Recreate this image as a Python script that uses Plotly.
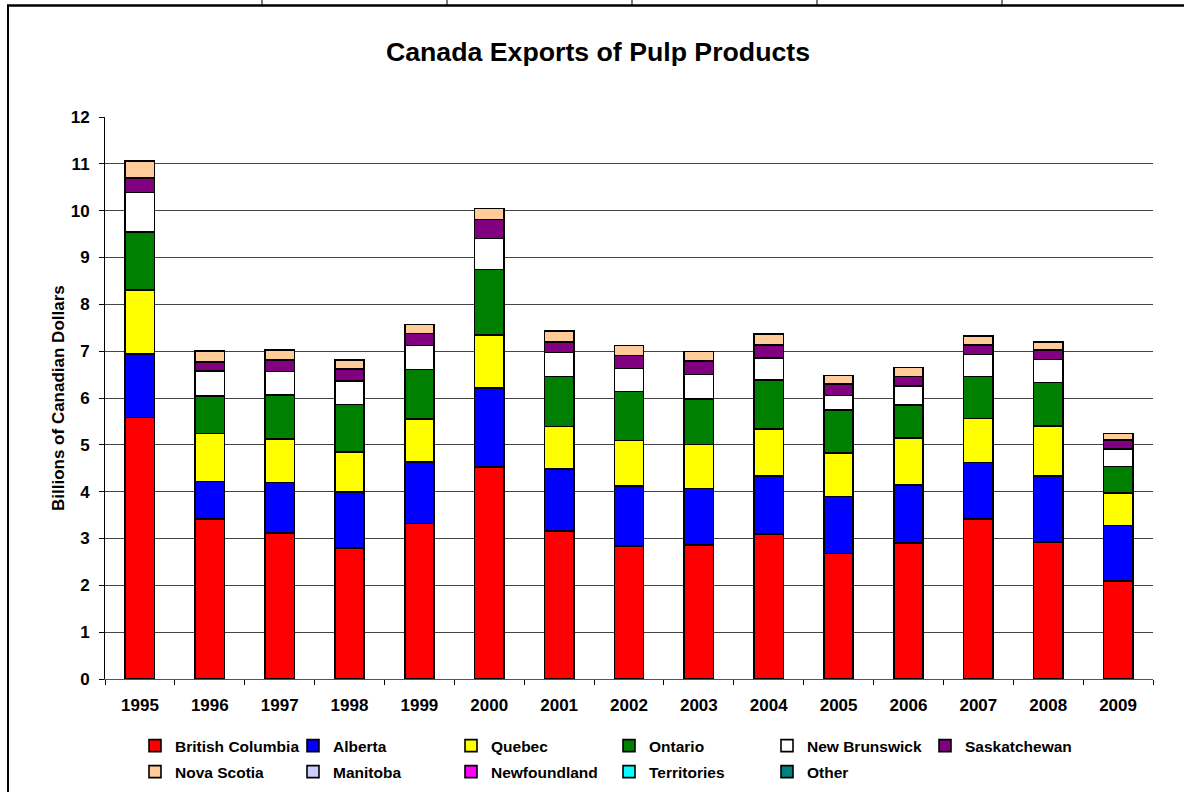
import plotly.graph_objects as go

years = ["1995", "1996", "1997", "1998", "1999", "2000", "2001", "2002",
         "2003", "2004", "2005", "2006", "2007", "2008", "2009"]

british_columbia = [5.58, 3.42, 3.12, 2.80, 3.32, 4.53, 3.16, 2.84, 2.86, 3.09, 2.68, 2.91, 3.42, 2.92, 2.09]
alberta          = [1.36, 0.80, 1.08, 1.19, 1.31, 1.69, 1.32, 1.28, 1.21, 1.25, 1.22, 1.23, 1.20, 1.42, 1.19]
quebec           = [1.37, 1.02, 0.93, 0.86, 0.92, 1.12, 0.91, 0.97, 0.94, 1.00, 0.93, 1.01, 0.94, 1.06, 0.69]
ontario          = [1.24, 0.80, 0.94, 1.01, 1.06, 1.40, 1.07, 1.05, 0.97, 1.04, 0.91, 0.70, 0.90, 0.93, 0.57]
new_brunswick    = [0.84, 0.54, 0.50, 0.50, 0.51, 0.67, 0.51, 0.49, 0.52, 0.48, 0.31, 0.41, 0.47, 0.49, 0.37]
saskatchewan     = [0.31, 0.19, 0.24, 0.26, 0.26, 0.40, 0.23, 0.28, 0.29, 0.27, 0.25, 0.20, 0.20, 0.21, 0.19]
nova_scotia      = [0.36, 0.24, 0.22, 0.19, 0.19, 0.24, 0.23, 0.21, 0.20, 0.24, 0.18, 0.19, 0.19, 0.17, 0.14]
manitoba         = [0] * 15
newfoundland     = [0] * 15
territories      = [0] * 15
other            = [0] * 15

series = [
    ("British Columbia", british_columbia, "#FF0000", "legend"),
    ("Alberta", alberta, "#0000FF", "legend"),
    ("Quebec", quebec, "#FFFF00", "legend"),
    ("Ontario", ontario, "#008000", "legend"),
    ("New Brunswick", new_brunswick, "#FFFFFF", "legend"),
    ("Saskatchewan", saskatchewan, "#800080", "legend"),
    ("Nova Scotia", nova_scotia, "#FFCC99", "legend2"),
    ("Manitoba", manitoba, "#CCCCFF", "legend2"),
    ("Newfoundland", newfoundland, "#FF00FF", "legend2"),
    ("Territories", territories, "#00FFFF", "legend2"),
    ("Other", other, "#008080", "legend2"),
]

y_ticks = list(range(0, 13))

FONT = "Arial, 'Liberation Sans', sans-serif"

fig = go.Figure()
for name, vals, color, leg in series:
    fig.add_trace(go.Bar(
        x=years, y=vals, name=name,
        marker=dict(color=color, line=dict(color="#000000", width=1.6)),
        legend=leg,
    ))

W, H = 1184, 792
L, R, T, B = 105, 31, 117, 113
pw, ph = W - L - R, H - T - B

def px(x):
    return (x - L) / pw

def py(y):
    return (H - B - y) / ph

shapes = [
    dict(type="line", xref="paper", yref="paper", x0=px(8), x1=px(8), y0=py(5), y1=py(800),
         line=dict(color="#000000", width=2)),
    dict(type="line", xref="paper", yref="paper", x0=px(7), x1=px(1200), y0=py(5.5), y1=py(5.5),
         line=dict(color="#000000", width=2.5)),
]
for dx in [262, 447, 632, 817, 1002]:
    shapes.append(dict(type="line", xref="paper", yref="paper", x0=px(dx), x1=px(dx),
                       y0=py(-2), y1=py(5), line=dict(color="#000000", width=1)))

legend_common = dict(
    orientation="h", xref="container", yref="container",
    xanchor="left", yanchor="middle",
    font=dict(family=FONT, size=15.5, color="#000000", weight="bold"),
    entrywidth=113, entrywidthmode="pixels",
    itemwidth=30, bgcolor="rgba(0,0,0,0)", borderwidth=0,
    traceorder="normal", itemclick=False, itemdoubleclick=False,
)

fig.update_layout(
    width=W, height=H,
    margin=dict(l=L, r=R, t=T, b=B),
    paper_bgcolor="#FFFFFF", plot_bgcolor="#FFFFFF",
    barmode="stack", bargap=0.58,
    font=dict(family=FONT, size=17, color="#000000"),
    title=dict(text="<b>Canada Exports of Pulp Products</b>",
               font=dict(family=FONT, size=26.7, color="#000000"),
               x=598 / W, xanchor="center", xref="container",
               y=1 - 52 / H, yanchor="middle", yref="container"),
    xaxis=dict(
        type="category", showgrid=False, showline=True, linecolor="#555555", linewidth=1,
        ticks="outside", tickson="boundaries", ticklen=5, tickcolor="#000000",
        tickfont=dict(family=FONT, size=17, color="#000000", weight="bold"),
        ticklabelstandoff=11,
    ),
    yaxis=dict(
        range=[0, 12], tickvals=y_ticks, showgrid=True, gridcolor="#444444", gridwidth=1,
        showline=True, linecolor="#000000", linewidth=1,
        ticks="outside", ticklen=5, tickcolor="#000000", zeroline=False,
        tickfont=dict(family=FONT, size=17, color="#000000", weight="bold"),
        ticklabelstandoff=6,
    ),
    legend=dict(x=135 / W, y=1 - 746 / H, **legend_common),
    legend2=dict(x=135 / W, y=1 - 772 / H, **legend_common),
    shapes=shapes,
    annotations=[dict(
        text="<b>Billions of Canadian Dollars</b>", xref="paper", yref="paper",
        x=px(58), y=0.5, textangle=-90, showarrow=False,
        font=dict(family=FONT, size=17, color="#000000"),
        xanchor="center", yanchor="middle",
    )],
)

fig.write_html(
    "out.html",
    config={"displayModeBar": False},
    post_script="document.body.style.margin='0';document.body.style.overflow='hidden';",
)
